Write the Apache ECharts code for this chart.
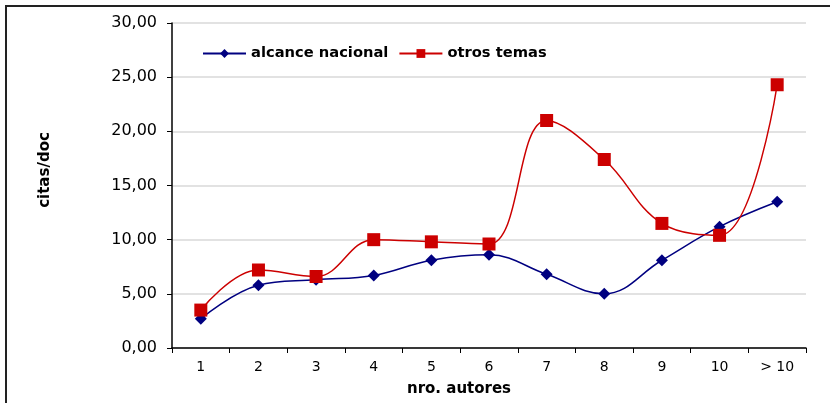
<!DOCTYPE html>
<html>
<head>
<meta charset="utf-8">
<script src="https://cdn.jsdelivr.net/npm/echarts@6/dist/echarts.min.js"></script>
<style>
  html, body { margin: 0; padding: 0; background: #fff; }
  #chart { width: 830px; height: 403px; }
</style>
</head>
<body>
<div id="chart"></div>
<script>
// Citations per document by number of authors
const categories = ['1', '2', '3', '4', '5', '6', '7', '8', '9', '10', '> 10'];
const alcanceNacional = [2.7, 5.8, 6.3, 6.7, 8.1, 8.6, 6.8, 5.0, 8.1, 11.2, 13.5];
const otrosTemas = [3.5, 7.2, 6.6, 10.0, 9.8, 9.6, 21.0, 17.4, 11.5, 10.4, 24.3];
const yTicks = { min: 0, max: 30, interval: 5 };

const FONT = '"DejaVu Sans", sans-serif';
const BOLD = 'bold 15px "DejaVu Sans", sans-serif';
const chart = echarts.init(document.getElementById('chart'));

chart.setOption({
  animation: false,
  backgroundColor: '#ffffff',
  graphic: [
    {
      type: 'rect',
      shape: { x: 6, y: 6, width: 900, height: 500 },
      style: { fill: 'none', stroke: '#222', lineWidth: 2 },
      silent: true
    },
    {
      type: 'text',
      x: 45, y: 170,
      rotation: Math.PI / 2,
      style: { text: 'citas/doc', fill: '#000', font: BOLD, align: 'center', verticalAlign: 'middle' }
    },
    {
      type: 'text',
      x: 459, y: 389,
      style: { text: 'nro. autores', fill: '#000', font: BOLD, align: 'center', verticalAlign: 'middle' }
    }
  ],
  grid: { left: 172, right: 24, top: 23, bottom: 55 },
  legend: {
    top: 41,
    left: 197,
    itemWidth: 43,
    itemHeight: 11,
    itemGap: 10,
    textStyle: { fontFamily: FONT, fontSize: 14.7, fontWeight: 'bold', color: '#000' },
    data: ['alcance nacional', 'otros temas']
  },
  xAxis: {
    type: 'category',
    data: categories,
    boundaryGap: true,
    axisLine: { lineStyle: { color: '#000', width: 1.5 } },
    axisTick: { show: true, alignWithLabel: false, length: 5, lineStyle: { color: '#000' } },
    axisLabel: { fontFamily: FONT, fontSize: 14, color: '#000', margin: 12 },
    splitLine: { show: false }
  },
  yAxis: {
    type: 'value',
    min: yTicks.min,
    max: yTicks.max,
    interval: yTicks.interval,
    axisLine: { show: true, lineStyle: { color: '#000', width: 1.5 } },
    axisTick: { show: true, length: 5, lineStyle: { color: '#000' } },
    axisLabel: {
      fontFamily: FONT, fontSize: 16, color: '#000', margin: 15,
      formatter: v => v.toFixed(2).replace('.', ',')
    },
    splitLine: { lineStyle: { color: '#d9d9d9', width: 1.5 } }
  },
  series: [
    {
      name: 'alcance nacional',
      type: 'line',
      data: alcanceNacional,
      smooth: 0.4,
      symbol: 'diamond',
      symbolSize: 12,
      itemStyle: { color: '#000080' },
      lineStyle: { color: '#000080', width: 1.5 }
    },
    {
      name: 'otros temas',
      type: 'line',
      data: otrosTemas,
      smooth: 0.4,
      symbol: 'rect',
      symbolSize: 13,
      itemStyle: { color: '#cc0000' },
      lineStyle: { color: '#cc0000', width: 1.5 }
    }
  ]
});
</script>
</body>
</html>
